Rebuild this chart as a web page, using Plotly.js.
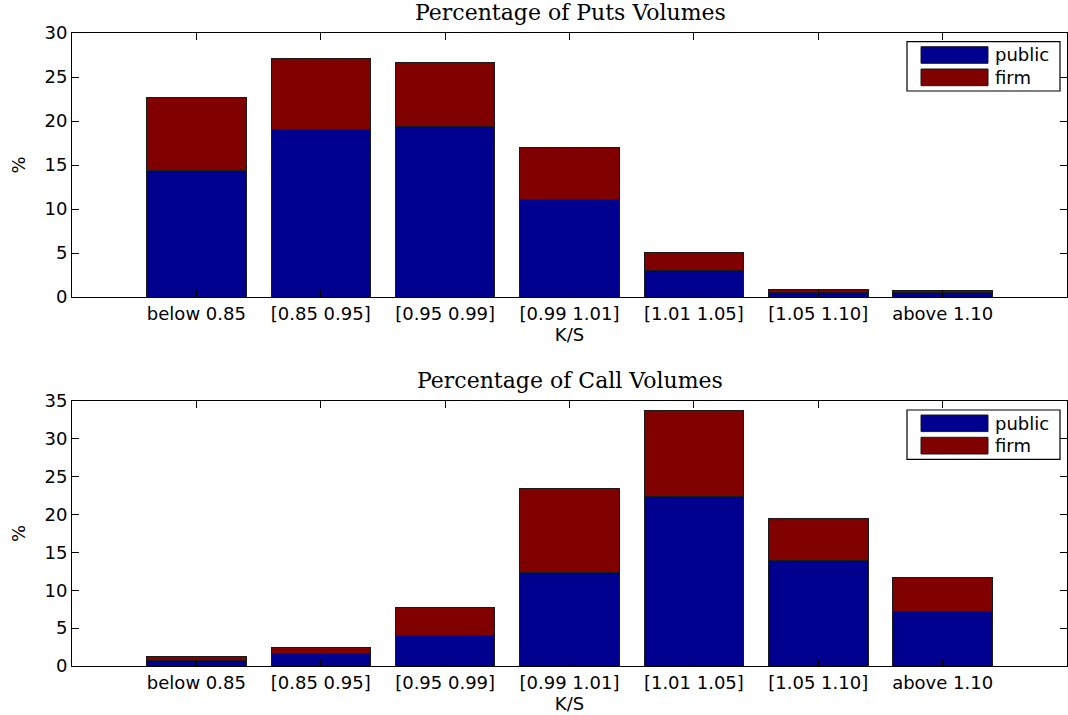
<!DOCTYPE html>
<html>
<head>
<meta charset="utf-8">
<script src="https://cdn.plot.ly/plotly-3.0.1.min.js"></script>
<style>html,body{margin:0;padding:0;background:#fff;}#chart{width:1068px;height:715px;}</style>
</head>
<body>
<div id="chart"></div>
<script>
// ---- data ----
const categories = ["below 0.85", "[0.85 0.95]", "[0.95 0.99]", "[0.99 1.01]", "[1.01 1.05]", "[1.05 1.10]", "above 1.10"];
const putsPublic = [14.4, 19.05, 19.4, 11.1, 3.03, 0.53, 0.47];
const putsFirm   = [8.3, 8.05, 7.2, 5.9, 2.0, 0.34, 0.25];
const callsPublic = [0.79, 1.67, 4.09, 12.4, 22.4, 13.9, 7.22];
const callsFirm   = [0.44, 0.71, 3.66, 11.1, 11.4, 5.6, 4.53];
const seriesNames = ["public", "firm"];
const titles = ["Percentage of Puts Volumes", "Percentage of Call Volumes"];
const xTitle = "K/S";
const yTitle = "%";

// ---- style ----
const W = 1068, H = 715;
const BLUE = "#00008F", RED = "#800000";
const px = x => x / W;
const py = y => 1 - y / H;
const sansFont = {family: "DejaVu Sans, Liberation Sans, sans-serif", size: 18, color: "#000"};
const serifFont = {family: "DejaVu Serif, Liberation Serif, serif", size: 22, color: "#000"};

function barTrace(y, name, color, xa, ya) {
  return {
    type: "bar", x: categories, y: y, name: name,
    xaxis: xa, yaxis: ya, showlegend: false,
    marker: {color: color, line: {color: "#1a1a1a", width: 1}},
    hoverinfo: "x+y+name"
  };
}

const data = [
  barTrace(putsPublic, seriesNames[0], BLUE, "x", "y"),
  barTrace(putsFirm, seriesNames[1], RED, "x", "y"),
  barTrace(callsPublic, seriesNames[0], BLUE, "x2", "y2"),
  barTrace(callsFirm, seriesNames[1], RED, "x2", "y2")
];

function xaxisDef(anchor) {
  return {
    domain: [px(72), px(1067)], anchor: anchor, type: "category",
    range: [-1, categories.length],
    showline: true, linecolor: "#000", linewidth: 1, mirror: "ticks",
    ticks: "inside", ticklen: 7, tickcolor: "#000", tickwidth: 1,
    showgrid: false, zeroline: false,
    tickfont: sansFont,
    title: {text: xTitle, font: sansFont, standoff: 0}
  };
}
function yaxisDef(anchor, dom, max) {
  return {
    domain: dom, anchor: anchor, range: [0, max], dtick: 5, tick0: 0,
    showline: true, linecolor: "#000", linewidth: 1, mirror: "ticks",
    ticks: "inside", ticklen: 7, tickcolor: "#000", tickwidth: 1,
    showgrid: false, zeroline: false,
    tickfont: sansFont,
    title: {text: yTitle, font: sansFont, standoff: 14}
  };
}

// legend boxes (custom, pixel geometry)
const shapes = [];
const annotations = [];
function legend(boxTop) {
  const off = boxTop - 41.7;
  shapes.push({type: "rect", xref: "paper", yref: "paper",
    x0: px(907), x1: px(1060), y0: py(41.7 + off), y1: py(91 + off),
    line: {color: "#000", width: 1.2}, fillcolor: "#fff", layer: "above"});
  const sw = [[46.7, 63.3, BLUE, seriesNames[0]], [69, 85.7, RED, seriesNames[1]]];
  sw.forEach(s => {
    shapes.push({type: "rect", xref: "paper", yref: "paper",
      x0: px(921), x1: px(988), y0: py(s[0] + off), y1: py(s[1] + off),
      line: {color: "#1a1a1a", width: 1}, fillcolor: s[2], layer: "above"});
    annotations.push({xref: "paper", yref: "paper", x: px(993), y: py((s[0] + s[1]) / 2 + off),
      xanchor: "left", yanchor: "middle", text: s[3], showarrow: false, font: sansFont});
  });
}
legend(41.7);
legend(410);

annotations.push({xref: "paper", yref: "paper", x: px(570), y: py(12), xanchor: "center", yanchor: "middle",
  text: titles[0], showarrow: false, font: serifFont});
annotations.push({xref: "paper", yref: "paper", x: px(570), y: py(380), xanchor: "center", yanchor: "middle",
  text: titles[1], showarrow: false, font: serifFont});

const layout = {
  width: W, height: H,
  margin: {l: 0, r: 0, t: 0, b: 0},
  paper_bgcolor: "#fff", plot_bgcolor: "#fff",
  barmode: "stack", bargap: 0.2,
  showlegend: false,
  xaxis: xaxisDef("y"),
  yaxis: yaxisDef("x", [py(297), py(33)], 30),
  xaxis2: xaxisDef("y2"),
  yaxis2: yaxisDef("x2", [py(666), py(401)], 35),
  shapes: shapes,
  annotations: annotations
};

Plotly.newPlot("chart", data, layout, {displayModeBar: false, staticPlot: true});
</script>
</body>
</html>
